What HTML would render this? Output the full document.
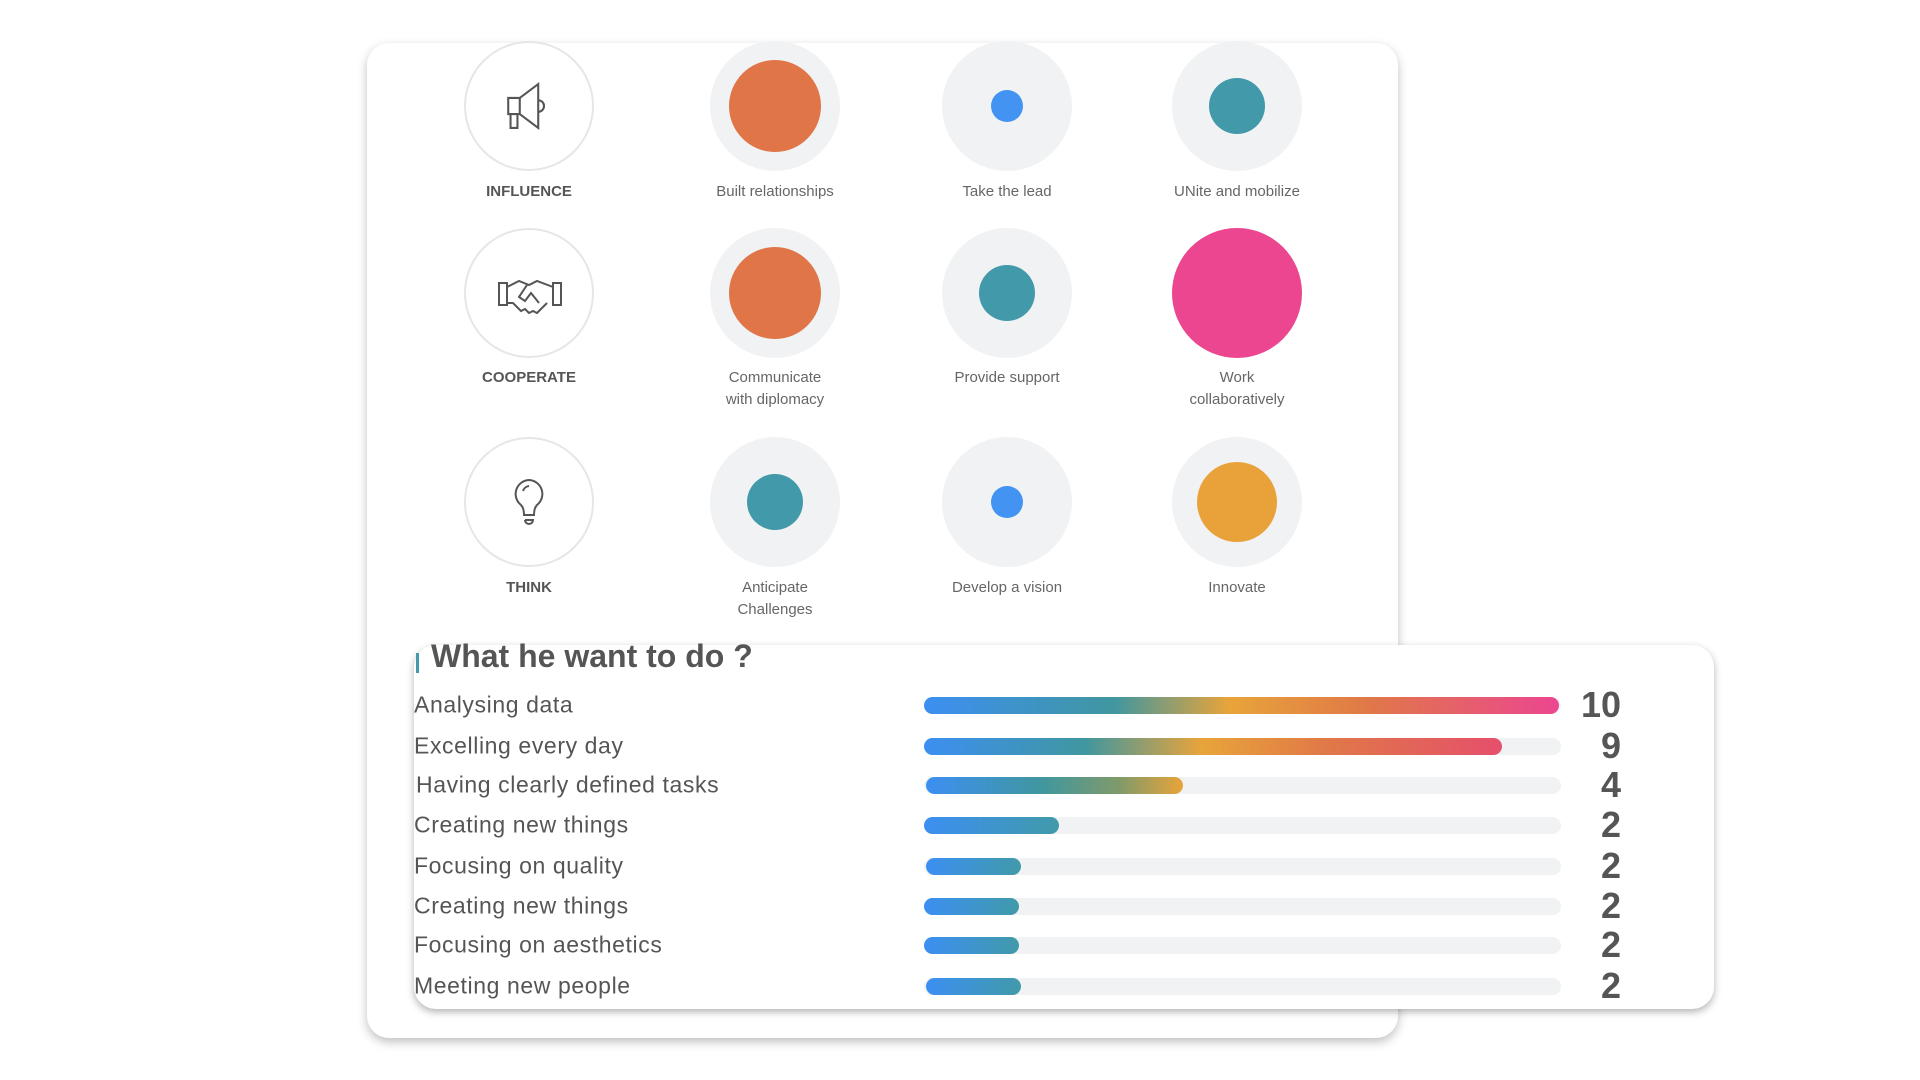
<!DOCTYPE html>
<html><head><meta charset="utf-8"><style>
body{margin:0;width:1920px;height:1080px;background:#fff;position:relative;overflow:hidden;font-family:"Liberation Sans",sans-serif;color:#555}
.card{position:absolute;background:#fff;border-radius:22px;box-shadow:0 4px 10px rgba(0,0,0,.25)}
.c{position:absolute;width:130px;height:130px;border-radius:50%;background:#f1f2f4;margin:-65px 0 0 -65px}
.c.o{background:#fff;border:2px solid #e6e6e6;box-sizing:border-box}
.d{position:absolute;border-radius:50%}
.lb{position:absolute;width:240px;margin-left:-120px;text-align:center;font-size:15px;line-height:22px;color:#666}
.lb.b{font-weight:bold;color:#555}
.row{position:absolute;left:414px;font-size:23px;letter-spacing:0.6px;color:#555;transform:translateY(-50%)}
.tr{position:absolute;left:924px;width:637px;height:17px;border-radius:9px;background:#f1f2f4;margin-top:-8px}
.fl{position:absolute;left:0;top:0;height:17px;border-radius:9px}
.n{position:absolute;right:299px;font-size:36px;font-weight:bold;color:#555;transform:translateY(-50%)}
</style></head><body>
<div class="card" style="left:367px;top:43px;width:1031px;height:995px"></div>

<div class="c o" style="left:529px;top:106px"></div>
<svg style="position:absolute;left:499px;top:76px" width="60" height="60" viewBox="0 0 52 50" fill="none" stroke="#555" stroke-width="1.8"><path d="M8 18h10v14H8zM18 18l16-12v38L18 32M34 20a5 5 0 0 1 0 10M10 32v12h6V32"/></svg>
<div class="c" style="left:775px;top:106px"></div><div class="d" style="left:729px;top:60px;width:92px;height:92px;background:#e07548"></div>
<div class="c" style="left:1007px;top:106px"></div><div class="d" style="left:991px;top:90px;width:32px;height:32px;background:#4393f3"></div>
<div class="c" style="left:1237px;top:106px"></div><div class="d" style="left:1209px;top:78px;width:56px;height:56px;background:#4299a9"></div>
<div class="lb b" style="left:529px;top:181px">INFLUENCE</div>
<div class="lb" style="left:775px;top:181px">Built relationships</div>
<div class="lb" style="left:1007px;top:181px">Take the lead</div>
<div class="lb" style="left:1237px;top:181px">UNite and mobilize</div>

<div class="c o" style="left:529px;top:293px"></div>
<svg style="position:absolute;left:497px;top:273px" width="66" height="44" viewBox="0 0 66 40" fill="none" stroke="#555" stroke-width="2"><path d="M2 8h8v22H2zM56 8h8v22h-8zM10 12l12-6 10 4 8-4 16 6M10 28l6 0 8 8 4-2 4 4 4-2 4 2 10-10M30 10l-8 12 6 4 6-8 8 10"/></svg>
<div class="c" style="left:775px;top:293px"></div><div class="d" style="left:729px;top:247px;width:92px;height:92px;background:#e07548"></div>
<div class="c" style="left:1007px;top:293px"></div><div class="d" style="left:979px;top:265px;width:56px;height:56px;background:#4299a9"></div>
<div class="c" style="left:1237px;top:293px"></div><div class="d" style="left:1172px;top:228px;width:130px;height:130px;background:#eb468f"></div>
<div class="lb b" style="left:529px;top:367px">COOPERATE</div>
<div class="lb" style="left:775px;top:367px">Communicate<br>with diplomacy</div>
<div class="lb" style="left:1007px;top:367px">Provide support</div>
<div class="lb" style="left:1237px;top:367px">Work<br>collaboratively</div>

<div class="c o" style="left:529px;top:502px"></div>
<svg style="position:absolute;left:511px;top:477px" width="36" height="52" viewBox="0 0 36 52" fill="none" stroke="#555" stroke-width="2"><path d="M18 3a14 14 0 0 0-8 25c2 2 3 6 3 10h10c0-4 1-8 3-10A14 14 0 0 0 18 3zM13 38h10M14 43h8a4 4 0 0 1-8 0M12 14a7 7 0 0 1 6-5"/></svg>
<div class="c" style="left:775px;top:502px"></div><div class="d" style="left:747px;top:474px;width:56px;height:56px;background:#4299a9"></div>
<div class="c" style="left:1007px;top:502px"></div><div class="d" style="left:991px;top:486px;width:32px;height:32px;background:#4393f3"></div>
<div class="c" style="left:1237px;top:502px"></div><div class="d" style="left:1197px;top:462px;width:80px;height:80px;background:#e9a23a"></div>
<div class="lb b" style="left:529px;top:577px">THINK</div>
<div class="lb" style="left:775px;top:577px">Anticipate<br>Challenges</div>
<div class="lb" style="left:1007px;top:577px">Develop a vision</div>
<div class="lb" style="left:1237px;top:577px">Innovate</div>

<div class="card" style="left:414px;top:645px;width:1300px;height:364px;box-shadow:0 3px 8px rgba(0,0,0,.3)"></div>
<div style="position:absolute;left:416px;top:653px;width:3px;height:20px;background:#4299a9"></div>
<div style="position:absolute;left:431px;top:638px;font-size:32px;font-weight:bold;color:#555">What he want to do ?</div>

<div class="row" style="top:705px">Analysing data</div>
<div class="tr" style="top:705px"><div class="fl" style="width:635px;background:linear-gradient(90deg,#3c8ff2,#40979f 30%,#e8a43a 48%,#e07848 70%,#ec4690)"></div></div><div class="n" style="top:705px">10</div>
<div class="row" style="top:746px">Excelling every day</div>
<div class="tr" style="top:746px"><div class="fl" style="width:578px;background:linear-gradient(90deg,#3c8ff2,#40979f 28%,#e8a43a 48%,#e07848 70%,#e54f6c)"></div></div><div class="n" style="top:746px">9</div>
<div class="row" style="top:785px;left:416px">Having clearly defined tasks</div>
<div class="tr" style="top:785px"><div class="fl" style="left:2px;width:257px;background:linear-gradient(90deg,#3c8ff2,#40979f 45%,#7f9a6a 75%,#e8a43a)"></div></div><div class="n" style="top:785px">4</div>
<div class="row" style="top:825px">Creating new things</div>
<div class="tr" style="top:825px"><div class="fl" style="width:135px;background:linear-gradient(90deg,#3c8ff2,#409aa9)"></div></div><div class="n" style="top:825px">2</div>
<div class="row" style="top:866px">Focusing on quality</div>
<div class="tr" style="top:866px"><div class="fl" style="left:2px;width:95px;background:linear-gradient(90deg,#3c8ff2,#409aa9)"></div></div><div class="n" style="top:866px">2</div>
<div class="row" style="top:906px">Creating new things</div>
<div class="tr" style="top:906px"><div class="fl" style="width:95px;background:linear-gradient(90deg,#3c8ff2,#409aa9)"></div></div><div class="n" style="top:906px">2</div>
<div class="row" style="top:945px">Focusing on aesthetics</div>
<div class="tr" style="top:945px"><div class="fl" style="width:95px;background:linear-gradient(90deg,#3c8ff2,#409aa9)"></div></div><div class="n" style="top:945px">2</div>
<div class="row" style="top:986px">Meeting new people</div>
<div class="tr" style="top:986px"><div class="fl" style="left:2px;width:95px;background:linear-gradient(90deg,#3c8ff2,#409aa9)"></div></div><div class="n" style="top:986px">2</div>
</body></html>
